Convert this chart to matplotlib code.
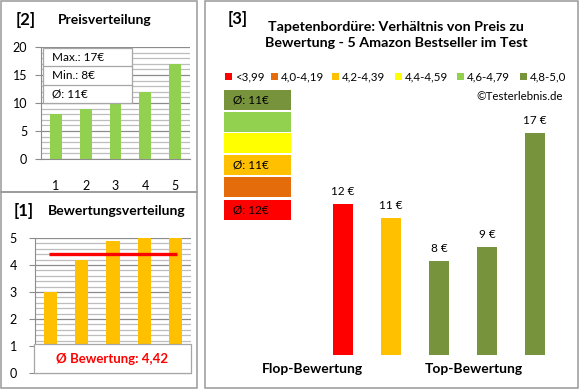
import matplotlib.pyplot as plt
from matplotlib.patches import Rectangle
from matplotlib.ticker import MultipleLocator

plt.rcParams['font.family'] = ['Lato', 'DejaVu Sans']

W, H = 580, 390

# [2] Preisverteilung
price_pos = [1, 2, 3, 4, 5]
price_sorted = [8, 9, 10, 12, 17]
price_box = ["Max.: 17€", "Min.: 8€", "Ø: 11€"]

# [1] Bewertungsverteilung
rating_pos = [1, 2, 3, 4, 5]
ratings_sorted = [3.0, 4.2, 4.9, 5.0, 5.0]
avg_rating = 4.42

# [3] Preis zu Bewertung
prod_pos = [1, 2, 3, 4, 5]
prod_price = [12, 11, 8, 9, 17]
prod_rating = [3.0, 4.2, 4.9, 5.0, 5.0]
bin_labels = ["<3,99", "4,0-4,19", "4,2-4,39", "4,4-4,59", "4,6-4,79", "4,8-5,0"]
bin_lower = [0.0, 4.0, 4.2, 4.4, 4.6, 4.8]
bin_colors = ["#FF0000", "#E46C0A", "#FFC000", "#FFFF00", "#92D050", "#77933C"]
group_labels = ["Flop-Bewertung", "Top-Bewertung"]

GRID_MINOR = "#BDBDBD"
GRID_MAJOR = "#8C8C8C"


def rating_bin(r):
    idx = 0
    for i, lo in enumerate(bin_lower):
        if r >= lo:
            idx = i
    return idx


fig = plt.figure(figsize=(W / 100, H / 100), dpi=100)


def px_axes(x0, y0, x1, y1, **kw):
    return fig.add_axes([x0 / W, 1 - y1 / H, (x1 - x0) / W, (y1 - y0) / H], **kw)


def style_grid(ax, minor, major):
    ax.yaxis.set_major_locator(MultipleLocator(major))
    ax.yaxis.set_minor_locator(MultipleLocator(minor))
    ax.grid(axis='y', which='minor', color=GRID_MINOR, lw=0.9)
    ax.grid(axis='y', which='major', color=GRID_MAJOR, lw=0.9)
    ax.set_axisbelow(True)
    for s in ['top', 'right']:
        ax.spines[s].set_visible(False)
    for s in ['left', 'bottom']:
        ax.spines[s].set_color(GRID_MAJOR)
    ax.tick_params(axis='y', which='minor', length=0)
    ax.tick_params(axis='y', which='major', length=4, color=GRID_MAJOR,
                   labelsize=9, pad=6)
    ax.tick_params(axis='x', length=0, labelsize=9)


# --- top-left: price distribution ---
ax1 = px_axes(41, 47, 190, 159)
ax1.bar(price_pos, price_sorted, width=0.4, color="#92D050", zorder=3)
ax1.set_xlim(0.5, 5.5)
ax1.set_ylim(0, 20)
style_grid(ax1, 1, 5)
ax1.set_xticks(price_pos)
ax1.tick_params(axis='x', pad=15)

# --- bottom-left: rating distribution ---
ax2 = px_axes(35, 238, 191, 373)
ax2.bar(rating_pos, ratings_sorted, width=0.42, color="#FFC000", zorder=3)
ax2.plot([0.95, 5.05], [avg_rating, avg_rating], color="#FF0000", lw=2.4,
         zorder=4, solid_capstyle='butt')
ax2.set_xlim(0.5, 5.5)
ax2.set_ylim(0, 5)
style_grid(ax2, 0.2, 1)
ax2.set_xticks([])
ax2.tick_params(axis='y', pad=9)

# --- right: price vs rating ---
ax3 = px_axes(295, 100, 577, 355)
colors = [bin_colors[rating_bin(r)] for r in prod_rating]
ax3.bar(prod_pos, prod_price, width=0.4, color=colors, bottom=0)
for x, v in zip(prod_pos, prod_price):
    ax3.annotate(f"{v} €", (x, v), xytext=(0, 5), textcoords='offset points',
                 ha='center', va='bottom', fontsize=8.5)
ax3.set_xlim(0, 5.875)
ax3.set_ylim(1.39, 1.39 + 255 / 14.22)
ax3.axis('off')

# --- overlay for panels, boxes, legend ---
ov = fig.add_axes([0, 0, 1, 1], zorder=10)
ov.set_xlim(0, W)
ov.set_ylim(H, 0)
ov.axis('off')
ov.patch.set_alpha(0)

border = "#999999"
for (x0, y0, x1, y1) in [(1, 1, 197, 192), (1, 192, 197, 388), (205, 1, 578, 388)]:
    ov.add_patch(Rectangle((x0, y0), x1 - x0, y1 - y0, fill=False,
                           ec=border, lw=1.1))

# titles
ov.text(16, 20, "[2]", fontsize=12, fontweight='bold', va='center')
ov.text(58, 20, "Preisverteilung", fontsize=10, fontweight='bold', va='center')
ov.text(14, 211, "[1]", fontsize=12, fontweight='bold', va='center')
ov.text(48, 211, "Bewertungsverteilung", fontsize=10, fontweight='bold', va='center')
ov.text(228, 19, "[3]", fontsize=12, fontweight='bold', va='center')
ov.text(396, 35, "Tapetenbordüre: Verhältnis von Preis zu\nBewertung - 5 Amazon Bestseller im Test",
        fontsize=10.3, fontweight='bold', ha='center', va='center', linespacing=1.45)

# price info box
ov.add_patch(Rectangle((43, 48), 89, 55, fc='white', ec="#A6A6A6", lw=0.9))
for i, t in enumerate(price_box):
    yc = 48 + 55 / 3 * (i + 0.5)
    ov.text(52, yc, t, fontsize=8.5, va='center')
    if i > 0:
        ov.plot([43, 132], [48 + 55 / 3 * i] * 2, color="#A6A6A6", lw=0.9)

# rating average box
ov.add_patch(Rectangle((34, 344), 157, 29, fc='white', ec="#A6A6A6", lw=0.9))
ov.text(112, 359, "Ø Bewertung: " + f"{avg_rating:.2f}".replace('.', ','),
        fontsize=9.5, fontweight='bold', color="#FF0000", ha='center', va='center')

# legend
leg_x = [225, 271, 332, 395, 457, 520]
for x, lab, c in zip(leg_x, bin_labels, bin_colors):
    ov.add_patch(Rectangle((x, 73), 7, 7, fc=c, ec='none'))
    ov.text(x + 10, 77, lab, fontsize=8.3, va='center')
ov.text(563, 97, "©Testerlebnis.de", fontsize=8.3, ha='right', va='center')

# colour blocks with average price per rating bin
block_y = [90, 111.5, 133, 155, 177, 200]
block_h = 20
for k, y in enumerate(block_y):
    b = 5 - k
    ov.add_patch(Rectangle((224, y), 67, block_h, fc=bin_colors[b], ec='none'))
    vals = [p for p, r in zip(prod_price, prod_rating) if rating_bin(r) == b]
    if vals:
        ov.text(233, y + block_h / 2, f"Ø: {round(sum(vals) / len(vals))}€",
                fontsize=8.5, va='center')

# group labels
ov.text(312, 369, group_labels[0], fontsize=10, fontweight='bold', ha='center', va='center')
ov.text(474, 369, group_labels[1], fontsize=10, fontweight='bold', ha='center', va='center')

fig.savefig("out.png", dpi=100)
